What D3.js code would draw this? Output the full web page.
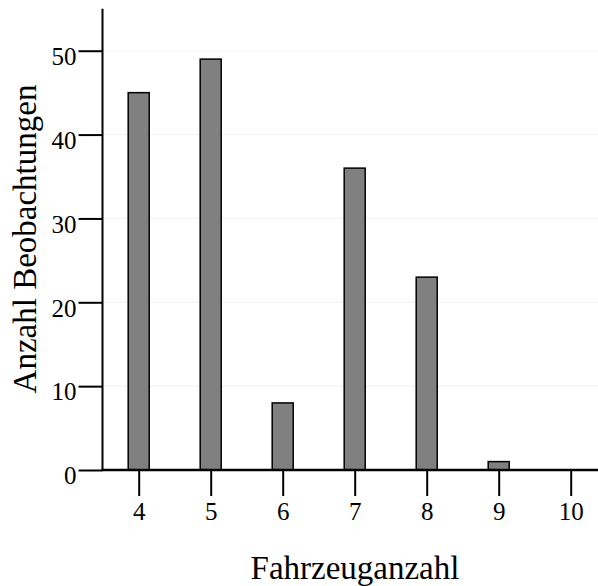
<!DOCTYPE html>
<html>
<head>
<meta charset="utf-8">
<script src="https://cdn.jsdelivr.net/npm/d3@7"></script>
<style>
  html, body { margin: 0; padding: 0; background: #fff; }
  svg { display: block; }
  text { font-family: "Liberation Serif", "Times New Roman", serif; fill: #000; }
</style>
</head>
<body>
<svg id="chart" width="598" height="586"></svg>
<script>
// Häufigkeiten der beobachteten Fahrzeuganzahl
const categories = [4, 5, 6, 7, 8, 9, 10];
const counts = [45, 49, 8, 36, 23, 1, 0];
const yTicks = [0, 10, 20, 30, 40, 50];
const xLabel = "Fahrzeuganzahl";
const yLabel = "Anzahl Beobachtungen";

const svg = d3.select("#chart");
const W = 598;
const axisX = 102.5, axisY = 470;

const x = d3.scaleLinear().domain([4, 10]).range([138.7, 570.7]);
const y = d3.scaleLinear().domain([0, 55]).range([axisY, 8.8]);
const barW = 21;

// feine Hilfslinien
svg.append("g")
  .selectAll("line")
  .data(yTicks.filter(d => d > 0))
  .join("line")
  .attr("x1", axisX).attr("x2", W)
  .attr("y1", d => y(d)).attr("y2", d => y(d))
  .attr("stroke", "#f3f3fa").attr("stroke-width", 1.2);

// Balken
svg.append("g")
  .selectAll("rect")
  .data(categories.map((c, i) => ({ c, v: counts[i] })).filter(d => d.v > 0))
  .join("rect")
  .attr("x", d => x(d.c) - barW / 2)
  .attr("y", d => y(d.v))
  .attr("width", barW)
  .attr("height", d => y(0) - y(d.v))
  .attr("fill", "#808080")
  .attr("stroke", "#000")
  .attr("stroke-width", 1.5);

// y-Achse
const yAxis = d3.axisLeft(y).tickValues(yTicks).tickSize(24).tickPadding(2).tickSizeOuter(0);
const gy = svg.append("g").attr("transform", `translate(${axisX},0)`).call(yAxis);
gy.select(".domain").remove();
gy.selectAll(".tick line").attr("stroke", "#000").attr("stroke-width", 2);
gy.selectAll(".tick text")
  .attr("font-size", 25)
  .attr("dy", "0.55em")
  .style("font-family", "'Liberation Serif', 'Times New Roman', serif")
  .attr("fill", "#000");
svg.append("line")
  .attr("x1", axisX).attr("x2", axisX)
  .attr("y1", y(55)).attr("y2", axisY)
  .attr("stroke", "#000").attr("stroke-width", 2);

// x-Achse
const xAxis = d3.axisBottom(x).tickValues(categories).tickFormat(d3.format("d"))
  .tickSize(26).tickPadding(6).tickSizeOuter(0);
const gx = svg.append("g").attr("transform", `translate(0,${axisY})`).call(xAxis);
gx.select(".domain").remove();
gx.selectAll(".tick line").attr("stroke", "#000").attr("stroke-width", 2);
gx.selectAll(".tick text")
  .attr("font-size", 25)
  .style("font-family", "'Liberation Serif', 'Times New Roman', serif")
  .attr("fill", "#000");
svg.append("line")
  .attr("x1", axisX - 1).attr("x2", W)
  .attr("y1", axisY).attr("y2", axisY)
  .attr("stroke", "#000").attr("stroke-width", 2.5);

// Achsentitel
svg.append("text")
  .attr("x", 355).attr("y", 579)
  .attr("text-anchor", "middle")
  .attr("font-size", 33)
  .text(xLabel);

svg.append("text")
  .attr("transform", "translate(36,239) rotate(-90)")
  .attr("text-anchor", "middle")
  .attr("font-size", 33)
  .text(yLabel);
</script>
</body>
</html>
